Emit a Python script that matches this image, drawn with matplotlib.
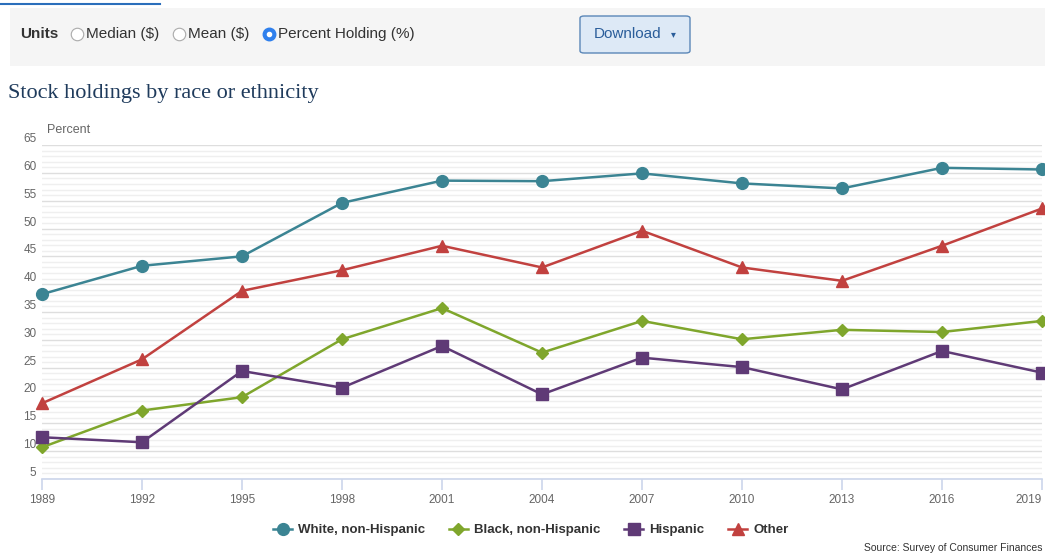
import matplotlib.pyplot as plt
import matplotlib.lines as mlines
from matplotlib.patches import Rectangle, FancyBboxPatch
from matplotlib.ticker import MultipleLocator

years = [1989, 1992, 1995, 1998, 2001, 2004, 2007, 2010, 2013, 2016, 2019]
white = [38.2, 43.3, 45.0, 54.6, 58.6, 58.5, 59.9, 58.1, 57.2, 60.9, 60.6]
black = [10.7, 17.3, 19.7, 30.1, 35.7, 27.7, 33.4, 30.1, 31.8, 31.4, 33.4]
hispanic = [12.5, 11.6, 24.4, 21.4, 28.9, 20.2, 26.8, 25.1, 21.1, 28.0, 24.1]
other = [18.6, 26.5, 38.8, 42.5, 46.9, 43.0, 49.6, 43.0, 40.6, 46.9, 53.6]

series_names = ["White, non-Hispanic", "Black, non-Hispanic", "Hispanic", "Other"]
series_values = [white, black, hispanic, other]
colors = ["#3b8493", "#7fa62c", "#5f3a76", "#c1413f"]
markers = ["o", "D", "s", "^"]
msizes = [8.5, 6.5, 8.5, 8.5]

plt.rcParams['font.family'] = ['Liberation Sans', 'DejaVu Sans']

W, H = 1045, 555
fig = plt.figure(figsize=(W / 100, H / 100), dpi=100)


def px(x, y):
    # pixel position (from top-left) -> figure fraction
    return x / W, 1 - y / H


# header bar with the unit selector
fig.add_artist(Rectangle(px(10, 66), 1035 / W, 58 / H, transform=fig.transFigure,
                         facecolor="#f5f5f5", edgecolor="none"))
fig.add_artist(mlines.Line2D([0, 160 / W], [1 - 4 / H] * 2, transform=fig.transFigure,
                             color="#2a6ebb", lw=1.5))
fig.text(*px(20, 34), "Units", fontsize=11, fontweight="bold", color="#333333", va="center")
for cx, label, on in [(77, "Median ($)", False), (179, "Mean ($)", False),
                      (269, "Percent Holding (%)", True)]:
    if on:
        fig.add_artist(mlines.Line2D([cx / W], [1 - 34 / H], transform=fig.transFigure,
                                     marker="o", markersize=9, color="#2f80ed", mec="#2f80ed"))
        fig.add_artist(mlines.Line2D([cx / W], [1 - 34 / H], transform=fig.transFigure,
                                     marker="o", markersize=3, color="white", mec="white"))
    else:
        fig.add_artist(mlines.Line2D([cx / W], [1 - 34 / H], transform=fig.transFigure,
                                     marker="o", markersize=9, mfc="white", mec="#aaaaaa", mew=0.8))
    fig.text(*px(cx + 9, 34), label, fontsize=11, color="#333333", va="center")

fig.add_artist(FancyBboxPatch(px(580, 53), 110 / W, 37 / H, transform=fig.transFigure,
                              boxstyle="round,pad=0,rounding_size=0.004",
                              facecolor="#dde9f6", edgecolor="#5b87b8", lw=1))
fig.text(*px(628, 34), "Download", fontsize=11, color="#2a5d9a", va="center", ha="center")
fig.text(*px(673, 34), "\u25be", fontsize=7, color="#2a5d9a", va="center", ha="center")

fig.text(*px(8, 93), "Stock holdings by race or ethnicity", fontsize=16,
         family="Liberation Serif", color="#1f3b5c", va="center")

# chart
ax = fig.add_axes([42 / W, 1 - 479 / H, 1000 / W, 334 / H])
for name, vals, c, m, ms in zip(series_names, series_values, colors, markers, msizes):
    ax.plot(years, vals, color=c, lw=1.8, marker=m, markersize=ms, mec=c, label=name,
            clip_on=False, zorder=3)

ax.set_xlim(1989, 2019)
ax.set_ylim(5, 65)
ax.set_xticks(years)
ax.yaxis.set_major_locator(MultipleLocator(5))
ax.yaxis.set_minor_locator(MultipleLocator(1))
ax.grid(axis="y", which="major", color="#dedede", lw=1)
ax.grid(axis="y", which="minor", color="#efefef", lw=1)
ax.set_axisbelow(True)
for s in ["top", "right", "left"]:
    ax.spines[s].set_visible(False)
ax.spines["bottom"].set_color("#ccd6eb")
ax.spines["bottom"].set_linewidth(1.2)
ax.tick_params(axis="x", length=8, width=1.2, color="#ccd6eb", labelsize=8.5,
               labelcolor="#666666", pad=3)
ax.tick_params(axis="y", which="both", length=0, labelsize=8.5, labelcolor="#666666", pad=4)
for lab in ax.get_yticklabels():
    lab.set_verticalalignment("bottom")
ax.get_xticklabels()[-1].set_horizontalalignment("right")
fig.text(*px(47, 130), "Percent", fontsize=9, color="#666666", va="center")

leg = fig.legend(loc="center", bbox_to_anchor=(531 / W, 1 - 530 / H), ncol=4, frameon=False,
                 prop={"weight": "bold", "size": 9.5}, handlelength=1.4, columnspacing=1.8,
                 handletextpad=0.5)
for t in leg.get_texts():
    t.set_color("#333333")

fig.text(*px(1042, 548), "Source: Survey of Consumer Finances", fontsize=7.5,
         color="#333333", ha="right", va="center")

fig.savefig("out.png", dpi=100)
